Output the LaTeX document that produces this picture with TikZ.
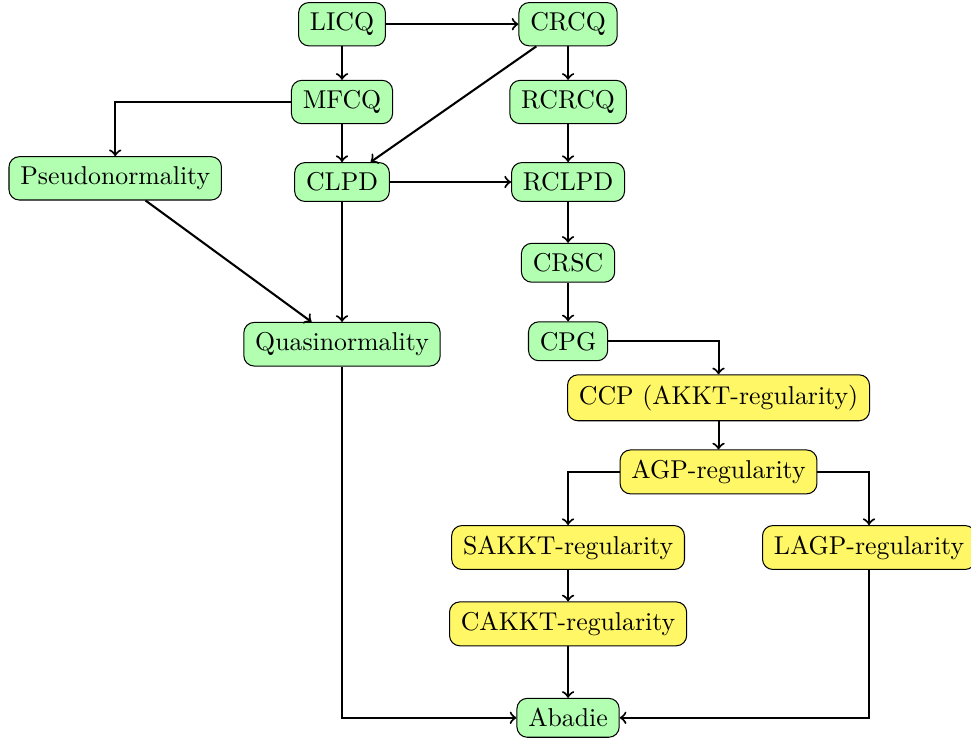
\documentclass[tikz,border=0pt]{standalone}
\usepackage{tikz}
\usetikzlibrary{calc}

\begin{document}
\begin{tikzpicture}[
		cq/.style={draw, rounded corners=4pt, inner xsep=4.4pt, inner ysep=3.9pt, fill=green!30},
		reg/.style={draw, rounded corners=4pt, inner xsep=4.4pt, inner ysep=3.9pt, fill=yellow!60},
		imp/.style={thick, ->}
	]
			%%%%% START %%%%%
			
			\useasboundingbox (0, 0) rectangle (13.23, -10.05);
			
			\node[cq] (licq) at (4.66, -0.33) {LICQ};
			\node[cq] (crcq) at (7.74, -0.33) {CRCQ};
			\node[cq] (mfcq) at (4.66, -1.39) {MFCQ};
			\node[cq] (rcrcq) at (7.74, -1.39) {RCRCQ};
			\node[cq] (pseudo) at (1.57, -2.43) {Pseudonormality};
			\node[cq] (clpd) at (4.66, -2.48) {CLPD};
			\node[cq] (rclpd) at (7.74, -2.48) {RCLPD};
			\node[cq] (crsc) at (7.74, -3.58) {CRSC};
			\node[cq] (quasi) at (4.66, -4.69) {Quasinormality};
			\node[cq] (cpg) at (7.74, -4.65) {CPG};
			
			\node[reg] (ccp) at (9.79, -5.42) {CCP (AKKT-regularity)};
			\node[reg] (agp) at (9.79, -6.43) {AGP-regularity};
			\node[reg] (sakkt) at (7.74, -7.46) {SAKKT-regularity};
			\node[reg] (lagp) at (11.84, -7.46) {LAGP-regularity};
			\node[reg] (cakkt) at (7.74, -8.50) {CAKKT-regularity};
			
			\node[cq] (abadie) at (7.74, -9.78) {Abadie};
			
			\draw[imp] (licq) -- (crcq);
			\draw[imp] (licq) -- (mfcq);
			\draw[imp] (crcq) -- (rcrcq);
			\draw[imp] (crcq) -- (clpd);
			\draw[imp] (mfcq) -| (pseudo);
			\draw[imp] (mfcq) -- (clpd);
			\draw[imp] (rcrcq) -- (rclpd);
			\draw[imp] (clpd) -- (rclpd);
			\draw[imp] (clpd) -- (quasi);
			\draw[imp] (pseudo) -- (quasi);
			\draw[imp] (rclpd) -- (crsc);
			\draw[imp] (crsc) -- (cpg);
			\draw[imp] (cpg) -| (ccp);
			\draw[imp] (ccp) -- (agp);
			\draw[imp] (agp) -| (sakkt);
			\draw[imp] (agp) -| (lagp);
			\draw[imp] (sakkt) -- (cakkt);
			\draw[imp] (cakkt) -- (abadie);
			\draw[imp] (quasi) |- (abadie);
			\draw[imp] (lagp) |- (abadie);
			
			%%%%% END %%%%%
		\end{tikzpicture}
\end{document}
